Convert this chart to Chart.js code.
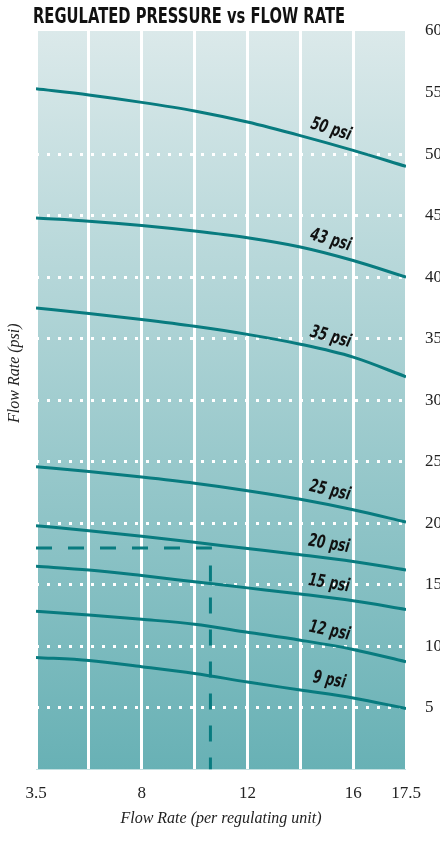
<!DOCTYPE html>
<html>
<head>
<meta charset="utf-8">
<script src="https://cdn.jsdelivr.net/npm/chart.js@4.4.0/dist/chart.umd.min.js"></script>
<style>
  html, body { margin: 0; padding: 0; background: #fff; overflow: hidden; }
  #wrap { width: 440px; height: 841px; }
</style>
</head>
<body>
<div id="wrap"><canvas id="pressure-canvas"></canvas></div>
<script>
// Datos (eje x en posiciones de columna 0..7)
const flowTicks = ['3.5', '', '8', '', '12', '', '16', '17.5'];
const flowPos = [0, 1, 2, 3, 4, 5, 6, 7];
const psiLabels = ['50 psi', '43 psi', '35 psi', '25 psi', '20 psi', '15 psi', '12 psi', '9 psi'];
const psi50 = [55.3, 54.8, 54.2, 53.5, 52.6, 51.5, 50.3, 49.0];
const psi43 = [44.8, 44.55, 44.2, 43.75, 43.2, 42.45, 41.35, 40.0];
const psi35 = [37.5, 37.05, 36.55, 36.0, 35.35, 34.55, 33.5, 31.9];
const psi25 = [24.6, 24.2, 23.75, 23.25, 22.65, 21.95, 21.1, 20.1];
const psi20 = [19.8, 19.4, 18.95, 18.45, 17.95, 17.45, 16.9, 16.2];
const psi15 = [16.5, 16.2, 15.75, 15.25, 14.75, 14.25, 13.7, 13.0];
const psi12 = [12.85, 12.55, 12.2, 11.8, 11.15, 10.5, 9.75, 8.75];
const psi9 = [9.1, 8.85, 8.35, 7.8, 7.1, 6.45, 5.8, 4.95];
const guideX = [0, 3.3, 3.3];
const guideY = [18, 18, 0];

const TEAL = '#087b7f';
const BOLD = '"DejaVu Sans", sans-serif';
const SERIF = '"Liberation Serif", "DejaVu Serif", serif';

const series = [psi50, psi43, psi35, psi25, psi20, psi15, psi12, psi9];

// fondo degradado del área del gráfico
const backdrop = {
    id: 'backdrop',
    beforeDraw(chart) {
        const { ctx, chartArea: a } = chart;
        const g = ctx.createLinearGradient(0, a.top, 0, a.bottom);
        g.addColorStop(0, '#dbe9ea');
        g.addColorStop(1, '#68b1b5');
        ctx.save();
        ctx.fillStyle = g;
        ctx.fillRect(a.left, a.top, a.right - a.left, a.bottom - a.top);
        ctx.restore();
    }
};

// textos: título, etiquetas "xx psi" sobre cada curva y título del eje izquierdo
const chartTexts = {
    id: 'chartTexts',
    afterDatasetsDraw(chart) {
        const { ctx, chartArea: a, scales: { x, y } } = chart;
        ctx.save();
        ctx.fillStyle = '#111';
        ctx.textAlign = 'center';
        ctx.textBaseline = 'middle';
        ctx.font = 'italic bold 18px ' + BOLD;
        chart.data.datasets.forEach(ds => {
            if (!ds.curveLabel) return;
            const p1 = ds.data[5], p2 = ds.data[6];
            const x1 = x.getPixelForValue(p1.x), y1 = y.getPixelForValue(p1.y);
            const x2 = x.getPixelForValue(p2.x), y2 = y.getPixelForValue(p2.y);
            ctx.save();
            ctx.translate((x1 + x2) / 2, (y1 + y2) / 2);
            ctx.rotate(Math.atan2(y2 - y1, x2 - x1) + 0.03);
            ctx.scale(0.68, 1);
            ctx.fillText(ds.curveLabel, 0, -14);
            ctx.restore();
        });

        // título principal, condensado
        ctx.save();
        ctx.font = 'bold 22px ' + BOLD;
        ctx.textAlign = 'left';
        ctx.translate(33, 17);
        ctx.scale(0.67, 1);
        ctx.fillText('REGULATED PRESSURE vs FLOW RATE', 0, 0);
        ctx.restore();

        ctx.font = 'italic 16px ' + SERIF;
        ctx.fillStyle = '#222';
        ctx.translate(15, (a.top + a.bottom) / 2 - 27);
        ctx.rotate(-Math.PI / 2);
        ctx.fillText('Flow Rate (psi)', 0, 0);
        ctx.restore();
    }
};

const datasets = series.map((vals, i) => ({
    label: psiLabels[i],
    curveLabel: psiLabels[i],
    data: vals.map((v, j) => ({ x: flowPos[j], y: v })),
    borderColor: TEAL,
    borderWidth: 3,
    pointRadius: 0,
    cubicInterpolationMode: 'monotone',
    fill: false
}));

datasets.push({
    label: 'guide',
    data: guideX.map((v, i) => ({ x: v, y: guideY[i] })),
    borderColor: TEAL,
    borderWidth: 3,
    borderDash: [16, 16],
    pointRadius: 0,
    tension: 0,
    fill: false
});

const ctx = document.getElementById('pressure-canvas').getContext('2d');
const chart = new Chart(ctx, {
    type: 'line',
    data: { datasets: datasets },
    plugins: [backdrop, chartTexts],
    options: {
        responsive: true,
        maintainAspectRatio: false,
        animation: false,
        layout: { padding: { left: 36, right: 0, top: 31, bottom: 13 } },
        plugins: {
            legend: { display: false },
            tooltip: { enabled: false },
            title: { display: false }
        },
        scales: {
            x: {
                type: 'linear',
                min: 0,
                max: 7,
                ticks: {
                    stepSize: 1,
                    autoSkip: false,
                    maxRotation: 0,
                    padding: 14,
                    color: '#222',
                    font: { family: SERIF, size: 17 },
                    callback: v => flowTicks[v] ?? ''
                },
                grid: { drawTicks: false, lineWidth: 3, color: '#fff' },
                border: { display: false },
                title: {
                    display: true,
                    text: 'Flow Rate (per regulating unit)',
                    color: '#222',
                    font: { family: SERIF, size: 16, style: 'italic' },
                    padding: { top: -9, bottom: 0 }
                }
            },
            y: {
                position: 'right',
                min: 0,
                max: 60,
                afterFit(s) { s.width = 34; },
                ticks: {
                    stepSize: 5,
                    padding: 19,
                    color: '#222',
                    font: { family: SERIF, size: 17 },
                    callback: v => v === 0 ? '' : v
                },
                grid: {
                    drawTicks: false,
                    lineWidth: 3,
                    color: c => (c.tick && c.tick.value >= 5 && c.tick.value <= 50) ? '#fff' : 'rgba(0,0,0,0)'
                },
                border: { display: false, dash: [3, 8] }
            }
        }
    }
});
</script>
</body>
</html>
